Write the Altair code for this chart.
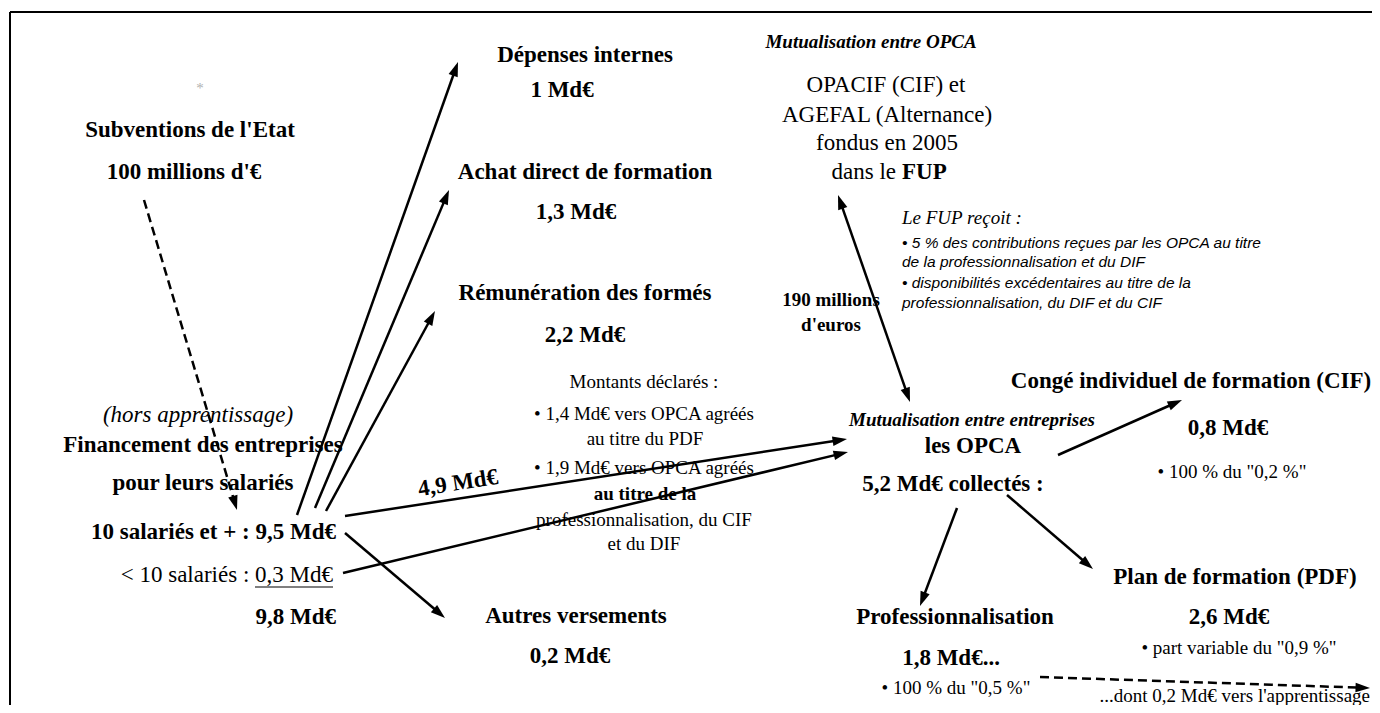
import math
import altair as alt
import pandas as pd

SERIF = "Liberation Serif"
SANS = "Liberation Sans"

# ---------------- texts (text, x, y) ----------------
headings = [  # bold serif, centred
    ("Subventions de l'Etat", 190, 130),
    ("100 millions d'€", 184, 172),
    ("Financement des entreprises", 203, 445),
    ("pour leurs salariés", 203, 483),
    ("Dépenses internes", 585, 55),
    ("1 Md€", 562, 90),
    ("Achat direct de formation", 585, 172),
    ("1,3 Md€", 576, 212),
    ("Rémunération des formés", 585, 293),
    ("2,2 Md€", 585, 335),
    ("Autres versements", 576, 616),
    ("0,2 Md€", 570, 656),
    ("les OPCA", 973, 446),
    ("5,2 Md€ collectés :", 953, 484),
    ("Congé individuel de formation (CIF)", 1191, 381),
    ("0,8 Md€", 1228, 428),
    ("Plan de formation (PDF)", 1235, 577),
    ("2,6 Md€", 1229, 617),
    ("Professionnalisation", 955, 617),
    ("1,8 Md€...", 951, 658),
]
headings_right = [("10 salariés et + : 9,5 Md€", 336, 532), ("9,8 Md€", 336, 617)]
plain_right = [("< 10 salariés : 0,3 Md€", 333, 575)]
italic_big = [("(hors apprentissage)", 198, 415)]
bold_small = [("190 millions", 831, 300), ("d'euros", 831, 325)]
flow_label = [("4,9 Md€", 458, 483)]
bold_italic = [("Mutualisation entre OPCA", 871, 42),
               ("Mutualisation entre entreprises", 972, 420)]
fup_lines = [("OPACIF (CIF) et", 886, 85), ("AGEFAL (Alternance)", 887, 115),
             ("fondus en 2005", 887, 143)]
fup_dans = [("dans le", 896, 172)]
fup_bold = [("FUP", 902, 172)]
notes = [
    ("Montants déclarés :", 644, 382),
    ("• 1,4 Md€ vers OPCA agréés", 644, 414),
    ("au titre du PDF", 645, 439),
    ("• 1,9 Md€ vers OPCA agréés", 644, 468),
    ("professionnalisation, du CIF", 644, 520),
    ("et du DIF", 644, 544),
    ("• 100 % du \"0,2 %\"", 1232, 472),
    ("• part variable du \"0,9 %\"", 1239, 648),
    ("• 100 % du \"0,5 %\"", 956, 688),
]
notes_bold = [("au titre de la", 645, 494)]
notes_right = [("...dont 0,2 Md€ vers l'apprentissage", 1370, 696)]
fup_title = [("Le FUP reçoit :", 902, 218)]
fup_bullets = [
    ("• 5 % des contributions reçues par les OPCA au titre", 902, 243),
    ("de la professionnalisation et du DIF", 902, 262),
    ("• disponibilités excédentaires au titre de la", 902, 283),
    ("professionnalisation, du DIF et du CIF", 902, 303),
]
star = [("*", 200, 88)]

# ---------------- arrows (x1, y1, x2, y2) ----------------
solid_arrows = [
    (297, 515, 458, 62),
    (315, 508, 449, 190),
    (326, 511, 435, 311),
    (345, 516, 847, 439),
    (343, 573, 848, 452),
    (345, 533, 445, 618),
    (1058, 455, 1182, 400),
    (957, 508, 920, 606),
    (1007, 495, 1093, 569),
]
double_arrows = [(838, 195, 910, 402)]
dashed_arrows = [(144, 200, 237, 510), (1040, 677, 1370, 688)]
underline = [(255, 587, 333, 587)]
frame = [(10, 12, 1380, 12), (10, 12, 10, 713)]

# ---------------- scales ----------------
W, H = 1364, 697
X = alt.X("x:Q", scale=alt.Scale(domain=[8, 8 + W], nice=False, zero=False), axis=None)
Y = alt.Y("y:Q", scale=alt.Scale(domain=[8, 8 + H], nice=False, zero=False, reverse=True), axis=None)


def arrow_parts(arrows, both=False, back=8):
    lines, heads = [], []
    for x1, y1, x2, y2 in arrows:
        dx, dy = x2 - x1, y2 - y1
        L = math.hypot(dx, dy)
        ux, uy = dx / L, dy / L
        ang = math.degrees(math.atan2(dx, -dy)) % 360
        heads.append(dict(x=x2, y=y2, angle=ang))
        sx, sy = x1, y1
        if both:
            sx, sy = x1 + ux * back, y1 + uy * back
            heads.append(dict(x=x1, y=y1, angle=(ang + 180) % 360))
        lines.append(dict(x=sx, y=sy, x2=x2 - ux * back, y2=y2 - uy * back))
    return pd.DataFrame(lines), pd.DataFrame(heads)


def seg_layer(segs, width=2.5, dash=None):
    df = pd.DataFrame(segs, columns=["x", "y", "x2", "y2"])
    kw = dict(color="black", strokeWidth=width)
    if dash:
        kw["strokeDash"] = dash
    return alt.Chart(df).mark_rule(**kw).encode(x=X, y=Y, x2="x2:Q", y2="y2:Q")


def line_layer(df, dash=None):
    kw = dict(color="black", strokeWidth=2.5)
    if dash:
        kw["strokeDash"] = dash
    return alt.Chart(df).mark_rule(**kw).encode(x=X, y=Y, x2="x2:Q", y2="y2:Q")


HEAD = "M0,0L-0.7,2.1L0.7,2.1Z"


def head_layer(df):
    return alt.Chart(df).mark_point(shape=HEAD, size=190, filled=True, color="black",
                                    opacity=1, strokeWidth=0).encode(
        x=X, y=Y, angle=alt.Angle("angle:Q", scale=None))


def tlayer(rows, size, weight="normal", style="normal", font=SERIF, align="center",
           color="black", angle=0):
    df = pd.DataFrame(rows, columns=["label", "x", "y"])
    return alt.Chart(df).mark_text(font=font, fontSize=size, fontWeight=weight,
                                   fontStyle=style, align=align, baseline="middle",
                                   color=color, angle=angle).encode(
        x=X, y=Y, text="label:N")


sl, sh = arrow_parts(solid_arrows)
dl, dh = arrow_parts(double_arrows, both=True)
ql, qh = arrow_parts(dashed_arrows)

layers = [
    seg_layer(frame, width=2),
    line_layer(sl), head_layer(sh),
    line_layer(dl), head_layer(dh),
    line_layer(ql, dash=[9, 5]), head_layer(qh),
    seg_layer(underline, width=1.2),
    tlayer(headings, 23, weight="bold"),
    tlayer(headings_right, 23, weight="bold", align="right"),
    tlayer(plain_right, 23, align="right"),
    tlayer(italic_big, 23, style="italic"),
    tlayer(bold_small, 19, weight="bold"),
    tlayer(flow_label, 23, weight="bold", angle=351),
    tlayer(bold_italic, 19, weight="bold", style="italic"),
    tlayer(fup_lines, 23),
    tlayer(fup_dans, 23, align="right"),
    tlayer(fup_bold, 23, weight="bold", align="left"),
    tlayer(notes, 19),
    tlayer(notes_bold, 19, weight="bold"),
    tlayer(notes_right, 19, align="right"),
    tlayer(fup_title, 19, style="italic", align="left"),
    tlayer(fup_bullets, 15.5, style="italic", font=SANS, align="left"),
    tlayer(star, 15, color="#b0b0b0"),
]

chart = alt.layer(*layers).properties(
    width=W, height=H, padding=0,
    autosize=alt.AutoSizeParams(type="none"),
    background="white",
).configure_view(strokeWidth=0)

chart.save("out.html", embed_options={"renderer": "svg", "actions": False})
